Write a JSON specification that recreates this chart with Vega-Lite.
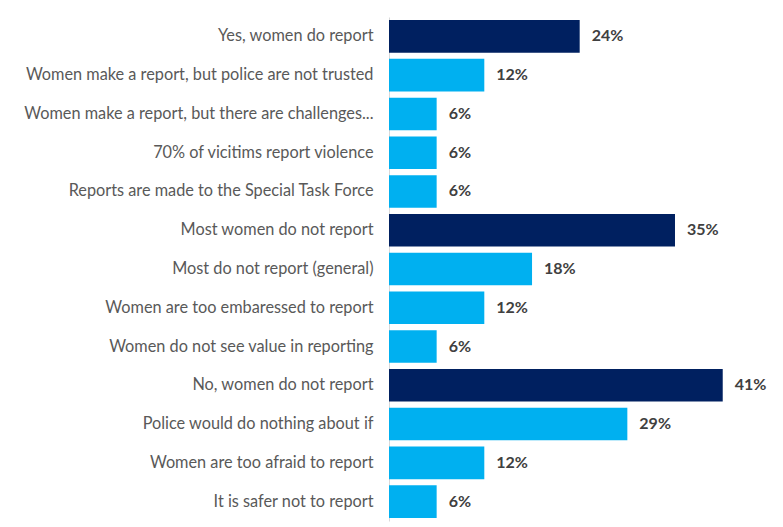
{
  "$schema": "https://vega.github.io/schema/vega-lite/v6.json",
  "width": 389,
  "height": 504,
  "autosize": {"type": "none"},
  "padding": {"left": 389, "top": 17, "right": 5, "bottom": 6},
  "background": "white",
  "config": {"view": {"stroke": null}},
  "data": {
    "values": [
      {"category": "Yes, women do report", "value": 23.53, "label": "24%", "group": "main"},
      {"category": "Women make a report, but police are not trusted", "value": 11.76, "label": "12%", "group": "sub"},
      {"category": "Women make a report, but there are challenges...", "value": 5.88, "label": "6%", "group": "sub"},
      {"category": "70% of vicitims report violence", "value": 5.88, "label": "6%", "group": "sub"},
      {"category": "Reports are made to the Special Task Force", "value": 5.88, "label": "6%", "group": "sub"},
      {"category": "Most women do not report", "value": 35.29, "label": "35%", "group": "main"},
      {"category": "Most do not report (general)", "value": 17.65, "label": "18%", "group": "sub"},
      {"category": "Women are too embaressed to report", "value": 11.76, "label": "12%", "group": "sub"},
      {"category": "Women do not see value in reporting", "value": 5.88, "label": "6%", "group": "sub"},
      {"category": "No, women do not report", "value": 41.18, "label": "41%", "group": "main"},
      {"category": "Police would do nothing about if", "value": 29.41, "label": "29%", "group": "sub"},
      {"category": "Women are too afraid to report", "value": 11.76, "label": "12%", "group": "sub"},
      {"category": "It is safer not to report", "value": 5.88, "label": "6%", "group": "sub"}
    ]
  },
  "encoding": {
    "y": {
      "field": "category",
      "type": "nominal",
      "sort": null,
      "scale": {"paddingInner": 0.16, "paddingOuter": 0.08},
      "axis": {
        "title": null,
        "ticks": false,
        "labelPadding": 16,
        "labelFont": "Lato",
        "labelFontSize": 16.3,
        "labelColor": "#595959",
        "labelLimit": 400,
        "domainColor": "#d9d9d9",
        "domainWidth": 1,
        "grid": false
      }
    },
    "x": {
      "field": "value",
      "type": "quantitative",
      "scale": {"domain": [0, 48]},
      "axis": null
    }
  },
  "layer": [
    {
      "mark": {"type": "bar"},
      "encoding": {
        "color": {
          "field": "group",
          "type": "nominal",
          "scale": {"domain": ["main", "sub"], "range": ["#002060", "#00B0F0"]},
          "legend": null
        }
      }
    },
    {
      "mark": {"type": "text", "align": "left", "dx": 12, "font": "Lato", "fontSize": 16, "fontWeight": "bold", "color": "#404040"},
      "encoding": {"text": {"field": "label"}}
    }
  ]
}
